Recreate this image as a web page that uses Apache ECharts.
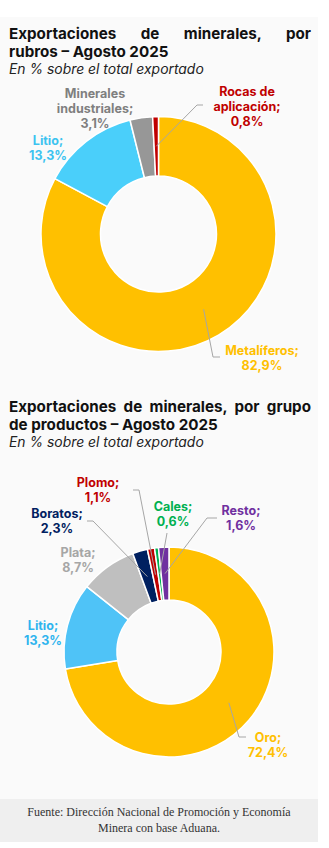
<!DOCTYPE html>
<html>
<head>
<meta charset="utf-8">
<script src="https://cdn.jsdelivr.net/npm/echarts@6/dist/echarts.min.js"></script>
<style>
  html, body { margin: 0; padding: 0; background: #ffffff; }
  body { width: 329px; height: 848px; position: relative; overflow: hidden; }
  #panel { position: absolute; left: 0; top: 17px; width: 318px; height: 782px; background: #fafafa; }
  #footer { position: absolute; left: 0; top: 799px; width: 318px; height: 43px; background: #efefef;
    font-family: "Liberation Serif", serif; font-size: 12px; line-height: 16px; color: #333; text-align: center;
    box-sizing: border-box; padding-top: 5px; }
  .title { position: absolute; left: 9px; width: 302px; font-family: "Inter", "Open Sans", sans-serif; font-weight: 700;
    font-size: 15.2px; line-height: 18px; color: #111; }
  .title .j { text-align: justify; text-align-last: justify; }
  .sub { position: absolute; left: 9px; font-family: "Inter", "Open Sans", sans-serif; font-style: italic;
    font-size: 13.9px; line-height: 16px; color: #222; }
  #chart { position: absolute; left: 0; top: 0; width: 329px; height: 848px; }
</style>
</head>
<body>
<div id="panel"></div>
<div class="title" style="top:25px"><div class="j">Exportaciones de minerales, por</div><div>rubros – Agosto 2025</div></div>
<div class="sub" style="top:61px">En % sobre el total exportado</div>
<div class="title" style="top:398px"><div class="j">Exportaciones de minerales, por grupo</div><div>de productos – Agosto 2025</div></div>
<div class="sub" style="top:434px">En % sobre el total exportado</div>
<div id="footer">Fuente: Dirección Nacional de Promoción y Economía<br>Minera con base Aduana.</div>
<div id="chart"></div>
<script>
// ---- data ----
const rubrosNames = ['Metalíferos', 'Litio', 'Minerales industriales', 'Rocas de aplicación'];
const rubrosValues = [82.9, 13.3, 3.1, 0.8];
const productosNames = ['Oro', 'Litio', 'Plata', 'Boratos', 'Plomo', 'Cales', 'Resto'];
const productosValues = [72.4, 13.3, 8.7, 2.3, 1.1, 0.6, 1.6];

// ---- styles ----
const rubrosColors = ['#FFC000', '#4ACFFA', '#979797', '#C00000'];
const rubrosLabelColors = ['#FFC000', '#3CC3F0', '#7F7F7F', '#C00000'];
const productosColors = ['#FFC000', '#4FC3F7', '#BFBFBF', '#002060', '#C00000', '#00B050', '#7030A0'];
const productosLabelColors = ['#FFC000', '#2EB4EE', '#A6A6A6', '#002060', '#C00000', '#00B050', '#7030A0'];

// ---- layout ----
const pies = [
  { center: [158.5, 234], r: [58, 117.5] },
  { center: [169, 652], r: [52, 105] }
];
// label anchor [x, y] and leader-line tail points (null = no leader)
const rubrosLabelPos = [[262, 357.5], [48, 147.5], [95, 108], [247, 106]];
const rubrosLeader = [[[213, 357], [220, 357]], null, null, [[197, 105], [203, 105]]];
const productosLabelPos = [[268, 745], [43, 633], [78, 560], [57, 521], [98, 490], [173, 514], [241, 518]];
const productosLeader = [[[239, 737], [246, 737]], null, null, [[93, 521], [87, 521]], [[139, 490], [133, 490]], [[167, 533]], [[207, 518], [217, 518]]];

const labelPos = [rubrosLabelPos, productosLabelPos];
const leaders = [rubrosLeader, productosLeader];
const valuesBySeries = [rubrosValues, productosValues];

function fmtName(n) {
  if (n.indexOf(' ') > 0 && n.length > 12) {
    const i = n.lastIndexOf(' ');
    return n.slice(0, i) + '\n' + n.slice(i + 1);
  }
  return n;
}
function fmtVal(v) { return v.toFixed(1).replace('.', ',') + '%'; }

function midRingPoint(si, di) {
  const vals = valuesBySeries[si];
  const total = vals.reduce((a, b) => a + b, 0);
  let cum = 0;
  for (let i = 0; i < di; i++) cum += vals[i];
  const frac = (cum + vals[di] / 2) / total;
  const ang = frac * 2 * Math.PI; // clockwise from top
  const p = pies[si];
  const rm = (p.r[0] + p.r[1]) / 2;
  return [p.center[0] + rm * Math.sin(ang), p.center[1] - rm * Math.cos(ang)];
}

function buildData(names, values, colors, labelColors) {
  return names.map((n, i) => ({
    name: n,
    value: values[i],
    itemStyle: { color: colors[i] },
    label: { color: labelColors[i] }
  }));
}

const labelCommon = {
  show: true,
  position: 'outside',
  fontFamily: 'Inter, "Open Sans", sans-serif',
  fontWeight: 'bold',
  fontSize: 12.5,
  lineHeight: 15,
  align: 'center',
  formatter: (p) => fmtName(p.name) + ';\n' + fmtVal(p.value)
};

function makeSeries(si, names, values, colors, labelColors) {
  return {
    type: 'pie',
    center: pies[si].center,
    radius: pies[si].r,
    startAngle: 90,
    clockwise: true,
    avoidLabelOverlap: false,
    silent: true,
    animation: false,
    itemStyle: { borderColor: '#ffffff', borderWidth: 1.5 },
    label: labelCommon,
    labelLine: { show: false },
    labelLayout: (params) => {
      const pos = labelPos[si][params.dataIndex];
      return { x: pos[0], y: pos[1], align: 'center', verticalAlign: 'middle' };
    },
    data: buildData(names, values, colors, labelColors)
  };
}

// leader lines from the middle of each slice's ring to its label
const leaderGraphics = [];
leaders.forEach((list, si) => {
  list.forEach((tail, di) => {
    if (!tail) return;
    leaderGraphics.push({
      type: 'polyline',
      z: 100,
      silent: true,
      shape: { points: [midRingPoint(si, di)].concat(tail) },
      style: { stroke: '#A6A6A6', lineWidth: 1, fill: null }
    });
  });
});

const chart = echarts.init(document.getElementById('chart'), null, { renderer: 'svg' });
chart.setOption({
  backgroundColor: 'transparent',
  animation: false,
  graphic: leaderGraphics,
  series: [
    makeSeries(0, rubrosNames, rubrosValues, rubrosColors, rubrosLabelColors),
    makeSeries(1, productosNames, productosValues, productosColors, productosLabelColors)
  ]
});
</script>
</body>
</html>
